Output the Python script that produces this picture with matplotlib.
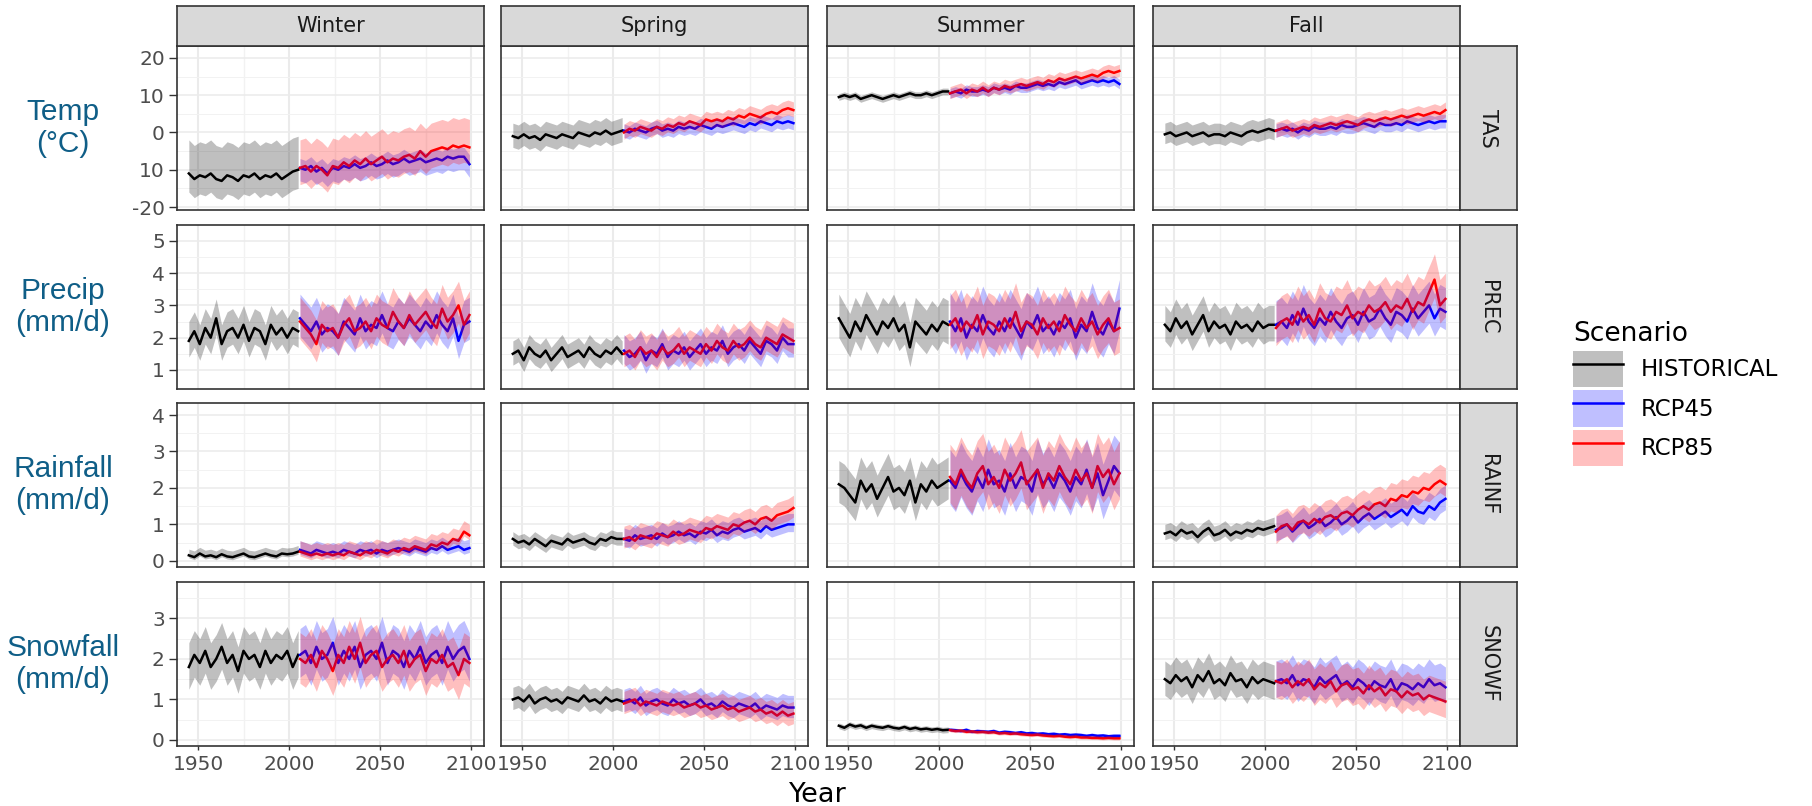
import numpy as np
import matplotlib
matplotlib.use("Agg")
import matplotlib.pyplot as plt
from matplotlib.patches import Patch
from matplotlib.lines import Line2D

plt.rcParams['font.family'] = ['DejaVu Sans']

# ---- data (every 3rd year) ----
HIST_YEARS = np.arange(1945, 2006, 3)   # 21 points
RCP_YEARS = np.arange(2006, 2101, 3)    # 32 points

seasons = ['Winter', 'Spring', 'Summer', 'Fall']
variables = ['TAS', 'PREC', 'RAINF', 'SNOWF']
row_labels = ['Temp\n(°C)', 'Precip\n(mm/d)', 'Rainfall\n(mm/d)', 'Snowfall\n(mm/d)']
scenarios = ['HISTORICAL', 'RCP45', 'RCP85']
scen_colors = ['black', 'blue', 'red']

tas_hist = {
    'Winter': [-11, -12.5, -11.5, -12, -11, -12.5, -13, -11.5, -12, -13, -11.5, -12, -11, -12.5, -11.5, -12, -11, -12.5, -11.5, -10.5, -10],
    'Spring': [-1, -1.5, -0.5, -1.5, -1, -2, -0.5, -1, -1.5, -0.5, -1, -1.5, 0, -0.5, -1, 0, -0.5, 0.5, -0.5, 0, 0.5],
    'Summer': [9.5, 10, 9.5, 10, 9, 9.5, 10, 9.5, 9, 9.5, 10, 9.5, 10, 10.5, 10, 10, 10.5, 10, 10.5, 11, 11],
    'Fall': [-0.5, 0, -1, -0.5, 0, -1, -0.5, 0, -1, -0.5, -0.5, -1, 0, -0.5, -1, 0, 0.5, 0, 0.5, 1, 0.5],
}
tas_rcp45 = {
    'Winter': [-9.5, -10, -9, -10.5, -9.5, -11, -9.5, -10, -9, -9.5, -8.5, -9.5, -9, -8, -9, -8.5,
               -7.5, -8.5, -8, -7, -8, -7.5, -7, -8, -7.5, -7, -7.5, -6.5, -7, -6.5, -6.5, -8.5],
    'Spring': [0.5, 0, 1, 0.5, 0, 1, 1.5, 0.5, 1, 0.5, 1.5, 1, 1.5, 1, 2, 1.5,
               1, 2, 1.5, 2, 2.5, 2, 1.5, 2.5, 2, 3, 2.5, 2, 3, 2.5, 3, 2.5],
    'Summer': [10.5, 11, 10.5, 11.5, 11, 11, 11.5, 11, 12, 11.5, 12, 11.5, 12.5, 12, 12, 12.5,
               13, 12.5, 13, 12.5, 13.5, 13, 13.5, 14, 13, 13.5, 14, 13.5, 14, 13.5, 14, 13],
    'Fall': [0.5, 1, 0.5, 1, 0, 1, 0.5, 1.5, 1, 1, 1.5, 1, 2, 1.5, 1.5, 2,
             2.5, 2, 1.5, 2.5, 2, 2, 2.5, 2, 3, 2.5, 2, 2.5, 3, 2.5, 3, 3],
}
tas_rcp85 = {
    'Winter': [-9.5, -9, -10.5, -9, -10, -11.5, -9, -9.5, -8, -9, -7.5, -8.5, -7, -8.5, -7.5, -6.5,
               -8, -7, -7.5, -6.5, -6, -7, -5, -6.5, -5, -4.5, -4, -4.5, -3.5, -4, -3.5, -4],
    'Spring': [0, 1, 0.5, 1.5, 1, 0.5, 1.5, 1, 2, 1.5, 2.5, 2, 3, 2.5, 2, 3.5,
               3, 3.5, 3, 4, 3.5, 4.5, 4, 5, 4.5, 4, 5, 5.5, 5, 6, 6.5, 6],
    'Summer': [10.5, 11, 11.5, 10.5, 11.5, 11, 12, 11, 12, 11.5, 12.5, 12, 12.5, 13, 12.5, 13,
               13.5, 13, 14, 13.5, 14.5, 14, 14.5, 15, 14.5, 15, 15.5, 15, 16, 16.5, 16, 16.5],
    'Fall': [0.5, 1, 1.5, 0.5, 1, 1.5, 1, 2, 1.5, 2, 2.5, 2, 2.5, 3, 2.5, 2,
             3, 3.5, 3, 3.5, 4, 3.5, 4, 4.5, 4, 4.5, 5, 4.5, 5, 5.5, 5, 6],
}

prec_hist = {
    'Winter': [1.9, 2.2, 1.8, 2.3, 2.0, 2.6, 1.8, 2.2, 2.3, 2.0, 2.4, 1.9, 2.3, 2.2, 1.8, 2.4, 2.1, 2.3, 2.0, 2.3, 2.2],
    'Spring': [1.5, 1.6, 1.3, 1.7, 1.5, 1.4, 1.6, 1.3, 1.5, 1.7, 1.4, 1.5, 1.6, 1.4, 1.7, 1.5, 1.4, 1.6, 1.5, 1.7, 1.5],
    'Summer': [2.6, 2.3, 2.0, 2.5, 2.2, 2.7, 2.4, 2.1, 2.5, 2.3, 2.6, 2.2, 2.4, 1.7, 2.5, 2.3, 2.1, 2.4, 2.2, 2.5, 2.4],
    'Fall': [2.4, 2.2, 2.6, 2.3, 2.5, 2.1, 2.4, 2.7, 2.2, 2.5, 2.3, 2.4, 2.1, 2.5, 2.3, 2.4, 2.2, 2.5, 2.3, 2.4, 2.4],
}
prec_rcp45 = {
    'Winter': [2.6, 2.4, 2.2, 2.5, 2.1, 2.3, 2.2, 2.0, 2.5, 2.3, 2.1, 2.6, 2.2, 2.4, 2.3, 2.7,
               2.3, 2.2, 2.5, 2.3, 2.6, 2.4, 2.2, 2.5, 2.3, 2.7, 2.4, 2.2, 2.6, 1.9, 2.4, 2.5],
    'Spring': [1.6, 1.4, 1.5, 1.7, 1.3, 1.6, 1.5, 1.8, 1.4, 1.6, 1.5, 1.7, 1.4, 1.6, 1.8, 1.5,
               1.7, 1.6, 1.9, 1.5, 1.7, 1.8, 1.6, 1.9, 1.7, 1.5, 1.9, 1.8, 1.6, 2.0, 1.8, 1.8],
    'Summer': [2.5, 2.2, 2.6, 2.0, 2.4, 2.2, 2.7, 2.3, 2.1, 2.5, 2.2, 2.6, 2.3, 2.0, 2.5, 2.3,
               2.7, 2.2, 2.4, 2.1, 2.5, 2.3, 2.6, 2.0, 2.4, 2.2, 2.8, 2.3, 2.1, 2.5, 2.2, 2.9],
    'Fall': [2.4, 2.5, 2.3, 2.7, 2.4, 2.9, 2.5, 2.3, 2.6, 2.4, 2.8, 2.5, 2.3, 2.6, 2.7, 2.4,
             2.8, 2.5, 2.6, 2.9, 2.6, 2.4, 2.8, 2.7, 2.5, 2.9, 2.6, 2.8, 3.0, 2.6, 2.9, 2.8],
}
prec_rcp85 = {
    'Winter': [2.5, 2.3, 2.1, 1.8, 2.4, 2.2, 2.3, 2.0, 2.4, 2.6, 2.2, 2.3, 2.5, 2.2, 2.6, 2.4,
               2.3, 2.8, 2.5, 2.3, 2.7, 2.4, 2.6, 2.8, 2.5, 2.3, 2.9, 2.5, 2.7, 3.0, 2.4, 2.7],
    'Spring': [1.5, 1.6, 1.4, 1.7, 1.5, 1.6, 1.4, 1.7, 1.5, 1.6, 1.8, 1.5, 1.7, 1.6, 1.5, 1.8,
               1.6, 1.9, 1.7, 1.6, 1.9, 1.7, 1.8, 2.0, 1.8, 1.7, 2.0, 1.9, 1.8, 2.1, 2.0, 1.9],
    'Summer': [2.4, 2.6, 2.2, 2.5, 2.3, 2.7, 2.1, 2.5, 2.4, 2.2, 2.6, 2.3, 2.8, 2.2, 2.5, 2.4,
               2.1, 2.6, 2.3, 2.5, 2.2, 2.7, 2.4, 2.2, 2.6, 2.3, 2.5, 2.1, 2.4, 2.6, 2.2, 2.3],
    'Fall': [2.3, 2.5, 2.6, 2.4, 2.8, 2.5, 2.7, 2.4, 2.9, 2.6, 2.5, 2.8, 2.7, 3.0, 2.6, 2.8,
             2.7, 3.0, 2.8, 2.9, 3.1, 2.8, 3.0, 2.9, 3.2, 2.8, 3.1, 3.0, 3.4, 3.8, 3.0, 3.2],
}

rainf_hist = {
    'Winter': [0.15, 0.1, 0.2, 0.12, 0.15, 0.1, 0.18, 0.12, 0.1, 0.15, 0.2, 0.12, 0.1, 0.15, 0.2, 0.15, 0.12, 0.2, 0.18, 0.2, 0.25],
    'Spring': [0.6, 0.5, 0.55, 0.45, 0.6, 0.5, 0.4, 0.55, 0.5, 0.45, 0.6, 0.5, 0.55, 0.6, 0.5, 0.45, 0.6, 0.55, 0.65, 0.6, 0.6],
    'Summer': [2.1, 2.0, 1.8, 1.6, 2.2, 1.9, 2.1, 1.7, 2.0, 2.3, 1.9, 2.0, 1.8, 2.2, 1.6, 2.1, 1.9, 2.2, 2.0, 2.1, 2.2],
    'Fall': [0.75, 0.8, 0.7, 0.85, 0.75, 0.8, 0.65, 0.8, 0.9, 0.7, 0.75, 0.85, 0.7, 0.8, 0.75, 0.85, 0.8, 0.9, 0.85, 0.9, 0.95],
}
rainf_rcp45 = {
    'Winter': [0.3, 0.25, 0.2, 0.3, 0.25, 0.2, 0.25, 0.2, 0.3, 0.25, 0.2, 0.3, 0.25, 0.3, 0.2, 0.3,
               0.25, 0.3, 0.35, 0.3, 0.25, 0.35, 0.3, 0.25, 0.35, 0.3, 0.4, 0.3, 0.35, 0.4, 0.3, 0.35],
    'Spring': [0.6, 0.55, 0.7, 0.6, 0.65, 0.7, 0.6, 0.75, 0.65, 0.7, 0.8, 0.7, 0.75, 0.65, 0.8, 0.75,
               0.85, 0.7, 0.8, 0.75, 0.85, 0.9, 0.8, 0.85, 0.9, 0.8, 0.95, 0.85, 0.9, 0.95, 1.0, 1.0],
    'Summer': [2.2, 2.0, 2.4, 2.1, 1.9, 2.3, 2.0, 2.5, 2.1, 2.2, 1.9, 2.4, 2.0, 2.3, 2.2, 1.9,
               2.5, 2.1, 2.3, 2.0, 2.4, 2.2, 1.9, 2.3, 2.1, 2.5, 2.0, 2.4, 1.8, 2.2, 2.6, 2.4],
    'Fall': [0.85, 0.9, 1.0, 0.8, 0.95, 1.1, 0.9, 1.0, 1.15, 0.95, 1.05, 1.2, 1.0, 1.1, 1.25, 1.05,
             1.2, 1.3, 1.15, 1.25, 1.35, 1.2, 1.3, 1.4, 1.25, 1.5, 1.35, 1.3, 1.5, 1.4, 1.6, 1.7],
}
rainf_rcp85 = {
    'Winter': [0.25, 0.2, 0.15, 0.2, 0.15, 0.2, 0.15, 0.2, 0.15, 0.25, 0.2, 0.15, 0.25, 0.2, 0.3, 0.25,
               0.2, 0.3, 0.25, 0.35, 0.3, 0.4, 0.35, 0.3, 0.45, 0.4, 0.5, 0.45, 0.6, 0.55, 0.8, 0.7],
    'Spring': [0.6, 0.65, 0.55, 0.7, 0.65, 0.6, 0.75, 0.7, 0.65, 0.8, 0.7, 0.75, 0.85, 0.8, 0.75, 0.9,
               0.85, 0.95, 0.9, 0.85, 1.0, 0.95, 1.05, 1.1, 1.0, 1.15, 1.2, 1.1, 1.25, 1.3, 1.35, 1.45],
    'Summer': [2.3, 2.1, 2.5, 2.2, 2.0, 2.4, 2.6, 2.1, 2.3, 2.0, 2.5, 2.2, 2.4, 2.7, 2.1, 2.3,
               2.5, 2.0, 2.4, 2.2, 2.6, 2.3, 2.1, 2.5, 2.2, 2.4, 2.0, 2.6, 2.3, 2.5, 2.1, 2.4],
    'Fall': [0.8, 0.95, 1.0, 0.85, 1.05, 1.1, 1.0, 1.15, 1.05, 1.2, 1.25, 1.15, 1.3, 1.35, 1.25, 1.4,
             1.5, 1.4, 1.55, 1.6, 1.5, 1.7, 1.65, 1.8, 1.75, 1.9, 1.85, 2.0, 1.95, 2.1, 2.2, 2.1],
}

snowf_hist = {
    'Winter': [1.8, 2.1, 1.9, 2.2, 1.8, 2.0, 2.3, 1.9, 2.1, 1.7, 2.2, 2.0, 2.1, 1.8, 2.2, 1.9, 2.1, 2.0, 2.2, 1.8, 2.1],
    'Spring': [1.0, 1.05, 0.95, 1.1, 0.9, 1.0, 1.05, 0.95, 1.0, 0.9, 1.05, 1.0, 0.95, 1.1, 0.95, 1.0, 0.9, 1.05, 0.95, 1.0, 0.95],
    'Summer': [0.35, 0.3, 0.38, 0.33, 0.36, 0.3, 0.35, 0.32, 0.3, 0.34, 0.3, 0.28, 0.32, 0.27, 0.3, 0.26, 0.28, 0.25, 0.27, 0.24, 0.25],
    'Fall': [1.5, 1.4, 1.6, 1.45, 1.55, 1.3, 1.6, 1.45, 1.7, 1.4, 1.5, 1.35, 1.65, 1.45, 1.5, 1.3, 1.55, 1.4, 1.5, 1.45, 1.4],
}
snowf_rcp45 = {
    'Winter': [2.1, 2.2, 1.9, 2.3, 2.0, 2.1, 2.4, 1.9, 2.2, 2.0, 2.3, 1.8, 2.1, 2.2, 2.0, 2.4,
               1.9, 2.2, 2.1, 1.8, 2.2, 2.0, 2.3, 1.9, 2.1, 2.2, 1.9, 2.3, 2.0, 2.2, 2.3, 2.0],
    'Spring': [0.95, 1.0, 0.9, 1.05, 0.85, 0.95, 1.0, 0.9, 0.85, 1.0, 0.9, 0.95, 0.85, 0.9, 1.0, 0.85,
               0.9, 0.8, 0.95, 0.85, 0.8, 0.9, 0.85, 0.8, 0.9, 0.75, 0.85, 0.8, 0.75, 0.85, 0.8, 0.8],
    'Summer': [0.25, 0.24, 0.22, 0.25, 0.2, 0.22, 0.21, 0.2, 0.22, 0.18, 0.2, 0.19, 0.17, 0.19, 0.16, 0.17,
               0.15, 0.16, 0.14, 0.15, 0.13, 0.14, 0.12, 0.13, 0.12, 0.1, 0.12, 0.1, 0.11, 0.09, 0.1, 0.1],
    'Fall': [1.45, 1.5, 1.4, 1.6, 1.35, 1.5, 1.45, 1.3, 1.55, 1.4, 1.5, 1.6, 1.35, 1.45, 1.3, 1.5,
             1.4, 1.25, 1.45, 1.35, 1.3, 1.5, 1.2, 1.4, 1.35, 1.25, 1.4, 1.3, 1.5, 1.35, 1.4, 1.3],
}
snowf_rcp85 = {
    'Winter': [2.0, 1.9, 2.1, 1.8, 2.2, 2.0, 1.7, 2.1, 1.9, 2.3, 2.0, 2.4, 1.9, 2.1, 2.2, 1.8,
               2.0, 2.1, 1.9, 2.2, 1.8, 2.0, 2.1, 1.7, 2.0, 1.9, 2.1, 1.8, 1.9, 1.6, 2.0, 1.9],
    'Spring': [0.9, 0.95, 1.0, 0.85, 0.95, 0.9, 0.85, 0.95, 0.9, 0.85, 0.9, 0.8, 0.85, 0.9, 0.8, 0.85,
               0.75, 0.8, 0.85, 0.75, 0.8, 0.7, 0.75, 0.8, 0.7, 0.75, 0.65, 0.7, 0.6, 0.7, 0.6, 0.65],
    'Summer': [0.24, 0.22, 0.23, 0.2, 0.21, 0.19, 0.2, 0.18, 0.19, 0.16, 0.17, 0.15, 0.16, 0.14, 0.13, 0.12,
               0.13, 0.11, 0.1, 0.09, 0.1, 0.08, 0.07, 0.08, 0.06, 0.06, 0.05, 0.05, 0.04, 0.05, 0.04, 0.04],
    'Fall': [1.45, 1.4, 1.5, 1.3, 1.45, 1.35, 1.5, 1.25, 1.4, 1.3, 1.45, 1.2, 1.35, 1.4, 1.25, 1.3,
             1.15, 1.35, 1.2, 1.3, 1.1, 1.25, 1.2, 1.05, 1.2, 1.1, 1.15, 1.0, 1.1, 1.05, 1.0, 0.95],
}

# ensemble spread below / above the mean, per scenario (HIST, RCP45, RCP85)
tas_band = {'Winter': [(-5, 9), (-3.5, 2.5), (-4.5, 7.5)], 'Spring': [(-3, 3.5), (-1.8, 1.8), (-1.8, 2.2)],
            'Summer': [(-0.9, 0.9), (-1.3, 1.3), (-1.4, 1.8)], 'Fall': [(-2.5, 3), (-1.8, 1.8), (-1.8, 2.2)]}
prec_band = {'Winter': [(-0.5, 0.6), (-0.55, 0.75), (-0.55, 0.75)], 'Spring': [(-0.35, 0.4), (-0.4, 0.5), (-0.4, 0.55)],
             'Summer': [(-0.6, 0.75), (-0.7, 0.9), (-0.75, 0.9)], 'Fall': [(-0.5, 0.6), (-0.55, 0.75), (-0.55, 0.8)]}
rainf_band = {'Winter': [(-0.07, 0.17), (-0.12, 0.25), (-0.12, 0.3)], 'Spring': [(-0.17, 0.2), (-0.2, 0.3), (-0.25, 0.35)],
              'Summer': [(-0.5, 0.65), (-0.65, 0.85), (-0.7, 0.9)], 'Fall': [(-0.17, 0.25), (-0.3, 0.38), (-0.33, 0.45)]}
snowf_band = {'Winter': [(-0.55, 0.6), (-0.55, 0.65), (-0.6, 0.65)], 'Spring': [(-0.25, 0.3), (-0.25, 0.3), (-0.25, 0.3)],
              'Summer': [(-0.07, 0.07), (-0.04, 0.05), (-0.04, 0.05)], 'Fall': [(-0.4, 0.45), (-0.4, 0.5), (-0.4, 0.5)]}

series = {
    'TAS': (tas_hist, tas_rcp45, tas_rcp85, tas_band),
    'PREC': (prec_hist, prec_rcp45, prec_rcp85, prec_band),
    'RAINF': (rainf_hist, rainf_rcp45, rainf_rcp85, rainf_band),
    'SNOWF': (snowf_hist, snowf_rcp45, snowf_rcp85, snowf_band),
}

# axis setup per row
y_limits = {'TAS': (-20.8, 23.2), 'PREC': (0.41, 5.49), 'RAINF': (-0.17, 4.33), 'SNOWF': (-0.15, 3.9)}
y_ticks = {'TAS': [-20, -10, 0, 10, 20], 'PREC': [1, 2, 3, 4, 5], 'RAINF': [0, 1, 2, 3, 4], 'SNOWF': [0, 1, 2, 3]}
y_minor = {'TAS': [-15, -5, 5, 15], 'PREC': [1.5, 2.5, 3.5, 4.5], 'RAINF': [0.5, 1.5, 2.5, 3.5],
           'SNOWF': [0.5, 1.5, 2.5, 3.5]}
y_ticklabels = {'TAS': ['-20', '10', '0', '10', '20'], 'PREC': ['1', '2', '3', '4', '5'],
                'RAINF': ['0', '1', '2', '3', '4'], 'SNOWF': ['0', '1', '2', '3']}
x_ticks = [1950, 2000, 2050, 2100]

# ---- layout in pixels ----
W, H = 1812, 806
col_x = [177, 501, 827, 1153]
row_y = [46, 225, 403, 582]
pw, ph = 307, 164


def rect(x0, y0, w, h):
    return [x0 / W, 1 - (y0 + h) / H, w / W, h / H]


fig = plt.figure(figsize=(W / 100, H / 100), dpi=100)
fig.patch.set_facecolor('white')

BORDER = '#333333'

for i, var in enumerate(variables):
    hist, r45, r85, band = series[var]
    for j, season in enumerate(seasons):
        ax = fig.add_axes(rect(col_x[j], row_y[i], pw, ph))
        data = [(HIST_YEARS, hist[season]), (RCP_YEARS, r45[season]), (RCP_YEARS, r85[season])]
        # lines first, ribbons on top (as in the original figure)
        for k, (yrs, vals) in enumerate(data):
            ax.plot(yrs, vals, color=scen_colors[k], lw=1.8, zorder=2)
        for k, (yrs, vals) in enumerate(data):
            v = np.asarray(vals, dtype=float)
            lo, hi = band[season][k]
            ax.fill_between(yrs, v + lo, v + hi, color=scen_colors[k], alpha=0.25, lw=0, zorder=3)

        ax.set_xlim(1938.5, 2107)
        ax.set_ylim(*y_limits[var])
        ax.set_xticks(x_ticks)
        ax.set_xticks([1975, 2025, 2075], minor=True)
        ax.set_yticks(y_ticks[var])
        ax.set_yticks(y_minor[var], minor=True)
        ax.set_axisbelow(True)
        ax.grid(axis='x', which='major', color='#EBEBEB', lw=1.5)
        ax.grid(axis='y', which='major', color='#EBEBEB', lw=1.1)
        ax.grid(axis='x', which='minor', color='#F2F2F2', lw=1.0)
        ax.grid(axis='y', which='minor', color='#F2F2F2', lw=0.7)
        for s in ax.spines.values():
            s.set_color(BORDER)
            s.set_linewidth(1.2)
        ax.tick_params(which='minor', length=0)
        ax.tick_params(axis='y', length=5.8, width=1, color=BORDER, labelcolor='#4D4D4D',
                       labelsize=14.5, pad=3)
        ax.tick_params(axis='x', length=3.2, width=1, color=BORDER, labelcolor='#4D4D4D',
                       labelsize=14.5, pad=3)
        if j == 0:
            ax.set_yticklabels(y_ticklabels[var])
        else:
            ax.tick_params(axis='y', length=0, labelleft=False)
        if i < len(variables) - 1:
            ax.tick_params(axis='x', length=0, labelbottom=False)

# facet strips
for j, season in enumerate(seasons):
    sax = fig.add_axes(rect(col_x[j], 6, pw, 40))
    sax.set_facecolor('#D9D9D9')
    sax.set_xticks([])
    sax.set_yticks([])
    for s in sax.spines.values():
        s.set_color(BORDER)
        s.set_linewidth(1.2)
    sax.text(0.5, 0.5, season, ha='center', va='center', fontsize=15, color='#1A1A1A',
             transform=sax.transAxes)

for i, var in enumerate(variables):
    sax = fig.add_axes(rect(1460, row_y[i], 57, ph))
    sax.set_facecolor('#D9D9D9')
    sax.set_xticks([])
    sax.set_yticks([])
    for s in sax.spines.values():
        s.set_color(BORDER)
        s.set_linewidth(1.2)
    sax.text(0.5, 0.5, var, ha='center', va='center', fontsize=15, color='#1A1A1A',
             rotation=-90, transform=sax.transAxes)
    # row titles on the left
    fig.text(63 / W, 1 - (row_y[i] + ph / 2) / H, row_labels[i], ha='center', va='center',
             fontsize=21.5, color='#0F5E87', family=['Liberation Sans', 'DejaVu Sans'],
             linespacing=1.2)

fig.text(818 / W, 1 - 795 / H, 'Year', ha='center', va='center', fontsize=19.5, color='black')

handles = [(Patch(facecolor=c, alpha=0.25, edgecolor='none'), Line2D([], [], color=c, lw=1.8))
           for c in scen_colors]
fig.legend(handles, scenarios, title='Scenario', loc='upper left',
           bbox_to_anchor=(1562 / W, 1 - 310 / H), frameon=False, fontsize=16.5,
           title_fontsize=19, handlelength=2.15, handleheight=2.05, labelspacing=0.15,
           handletextpad=0.8, borderpad=0, alignment='left')

fig.savefig('out.png', dpi=100)
